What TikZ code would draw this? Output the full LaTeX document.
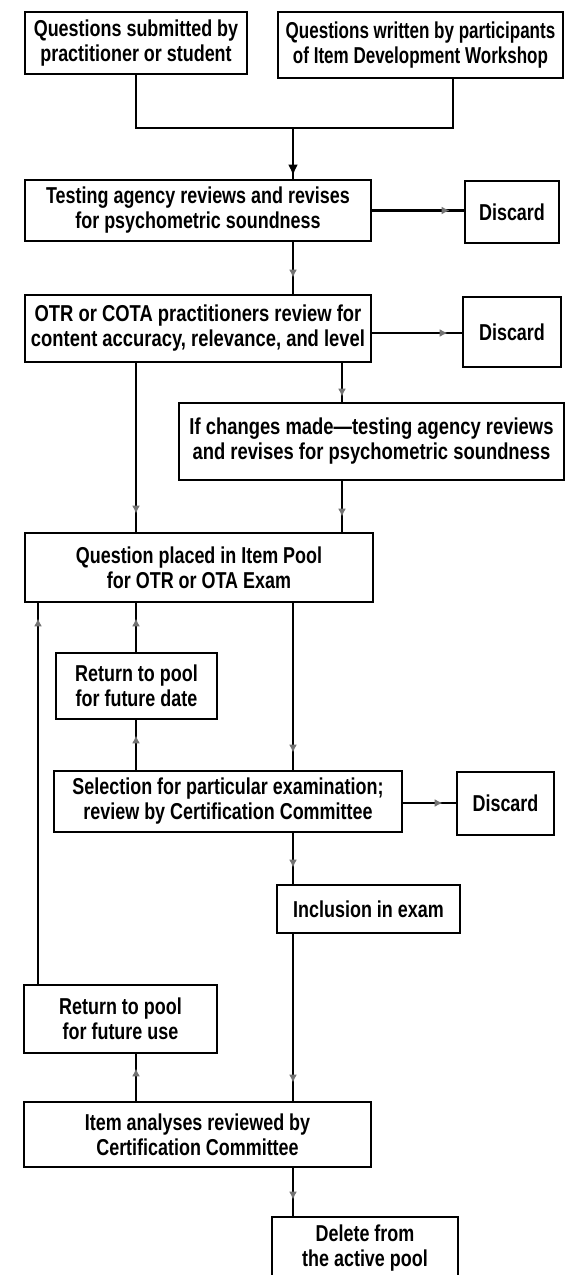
\documentclass[tikz,border=0pt]{standalone}
\usepackage{fontspec}
\setmainfont{Liberation Sans}[FakeStretch=0.78]
\newfontfamily\widefont{Liberation Sans}[FakeStretch=0.80]
\newfontfamily\narrowfont{Liberation Sans}[FakeStretch=0.74]
\usetikzlibrary{arrows.meta,decorations.markings}
\begin{document}
\begin{tikzpicture}[x=1pt,y=-1pt,
  bx/.style={draw, line width=2.8pt, inner sep=1pt, align=center,
    font=\bfseries\fontsize{23}{25}\selectfont},
  bxw/.style={bx, font=\widefont\bfseries\fontsize{23}{25}\selectfont},
  bxn/.style={bx, font=\narrowfont\bfseries\fontsize{23}{25}\selectfont},
  ln/.style={line width=2.8pt},
  am/.style={postaction=decorate, decoration={markings,
    mark=at position -#1 with {\arrow{Latex[length=8pt,width=8pt,color=black!55]}}}},
  amk/.style={postaction=decorate, decoration={markings,
    mark=at position -#1 with {\arrow{Latex[length=11pt,width=10pt]}}}}
]
\useasboundingbox (0,0) rectangle (568,1275);
\clip (0,0) rectangle (568,1275);
\fill[white] (0,0) rectangle (568,1275);

\node[bx, minimum width=222pt, minimum height=62pt] (b1) at (136,43) {Questions submitted by\\practitioner or student};
\node[bxn, minimum width=285pt, minimum height=66pt] (b2) at (420.5,45) {Questions written by participants\\of Item Development Workshop};
\node[bx, minimum width=346pt, minimum height=61pt] (b3) at (198,210.5) {Testing agency reviews and revises\\for psychometric soundness};
\node[bx, minimum width=94pt, minimum height=62pt] (d1) at (512,212) {Discard};
\node[bxw, minimum width=346pt, minimum height=67pt] (b4) at (198,328.5) {OTR or COTA practitioners review for\\content accuracy, relevance, and level};
\node[bx, minimum width=98pt, minimum height=70pt] (d2) at (512,332) {Discard};
\node[bxw, minimum width=385pt, minimum height=77pt] (ifc) at (371.5,441.5) {If changes made—testing agency reviews\\and revises for psychometric soundness};
\node[bx, minimum width=348pt, minimum height=69pt] (b5) at (199,567.5) {Question placed in Item Pool\\for OTR or OTA Exam};
\node[bx, minimum width=161pt, minimum height=66pt] (r1) at (136.5,686) {Return to pool\\for future date};
\node[bx, minimum width=348pt, minimum height=61pt] (sel) at (228,801.5) {Selection for particular examination;\\review by Certification Committee};
\node[bx, minimum width=97pt, minimum height=63pt] (d3) at (505.5,803.5) {Discard};
\node[bx, minimum width=183pt, minimum height=48pt] (inc) at (368.5,909) {Inclusion in exam};
\node[bx, minimum width=193pt, minimum height=68pt] (r2) at (120.5,1019) {Return to pool\\for future use};
\node[bx, minimum width=347pt, minimum height=65pt] (item) at (197.5,1134.5) {Item analyses reviewed by\\Certification Committee};
\node[bx, minimum width=186pt, minimum height=62pt] (del) at (365,1248) {Delete from\\the active pool};

\coordinate (j) at (293,128);
\coordinate (xA) at (136,0);
\coordinate (xB) at (342,0);
\coordinate (xD) at (38,0);

\draw[ln] (b1.south) |- (j) -| ([xshift=32.5pt]b2.south);
\draw[ln, amk=3pt] (j) -- (j |- b3.north);
\draw[ln, am=14pt] (b3.east) -- (b3.east -| d1.west);
\draw[ln, am=16pt] (j |- b3.south) -- (j |- b4.north);
\draw[ln, am=14pt] (b4.east |- 0,333) -- (d2.west |- 0,333);
\draw[ln, am=18pt] (xA |- b4.south) -- (xA |- b5.north);
\draw[ln, am=5pt] (xB |- b4.south) -- (xB |- ifc.north);
\draw[ln, am=15pt] (xB |- ifc.south) -- (xB |- b5.north);
\draw[ln, am=17pt] (j |- b5.south) -- (j |- sel.north);
\draw[ln, am=15pt] (xA |- sel.north) -- (xA |- r1.south);
\draw[ln, am=15pt] (xA |- r1.north) -- (xA |- b5.south);
\draw[ln, am=15pt] (xD |- r2.north) -- (xD |- b5.south);
\draw[ln, am=13pt] (sel.east |- 0,803) -- (d3.west |- 0,803);
\draw[ln, am=16pt] (j |- sel.south) -- (j |- inc.north);
\draw[ln, am=18pt] (j |- inc.south) -- (j |- item.north);
\draw[ln, am=14pt] (xA |- item.north) -- (xA |- r2.south);
\draw[ln, am=16pt] (j |- item.south) -- (j |- del.north);
\end{tikzpicture}
\end{document}
